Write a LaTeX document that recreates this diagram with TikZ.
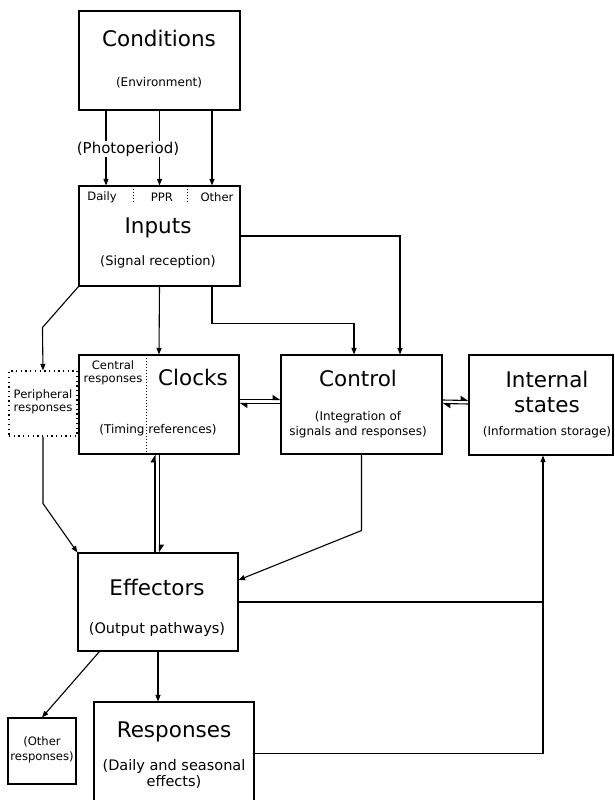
\documentclass[tikz,border=0pt]{standalone}
\usepackage{fontspec}
\setmainfont{DejaVu Sans}
\usetikzlibrary{arrows.meta}

\begin{document}
\begin{tikzpicture}[x=1pt,y=-1pt,line width=1.1pt,
  >={Triangle[length=6.5pt,width=5pt]},
  pair/.style={-{Triangle[harpoon,length=7pt,width=9pt]}},
  box/.style 2 args={draw,minimum width=#1,minimum height=#2,inner sep=0pt},
  dots/.style={line width=0.9pt,dash pattern=on 0.9pt off 2.1pt},
  titletxt/.style={inner sep=0pt,font=\fontsize{21.5}{24}\selectfont},
  midtxt/.style={inner sep=0pt,font=\fontsize{14.5}{17}\selectfont},
  subtxt/.style={inner sep=0pt,font=\fontsize{12}{14}\selectfont},
  notetxt/.style={inner sep=0pt,font=\fontsize{11.6}{13}\selectfont}]
\useasboundingbox (0,0) rectangle (614,800);
\clip (0,0) rectangle (614,800);
\fill[white] (0,0) rectangle (614,800);

\node[box={161}{99}] (cond) at (159.5,60.5) {};
\node[box={161}{100}] (inp) at (159.5,236) {};
\node[box={160}{99}] (clk) at (159,404.5) {};
\node[box={161}{99}] (ctl) at (361.5,404.5) {};
\node[box={144}{100}] (ist) at (541,405) {};
\node[box={68}{65},dash pattern=on 1.3pt off 3.4pt] (per) at (43,403.5) {};
\node[box={160}{98}] (eff) at (158,602) {};
\node[box={68}{66}] (oth) at (42,751) {};
\node[box={160}{103}] (rsp) at (174,753.5) {};
\coordinate (up) at ([xshift=2pt]ist.south);

\draw[->] ([xshift=-53.5pt]cond.south) -- ([xshift=-53.5pt]inp.north);
\draw[->] (cond.south) -- (inp.north);
\draw[->] ([xshift=52.5pt]cond.south) -- ([xshift=52.5pt]inp.north);
\draw[->] (inp.east) -| ([xshift=38.5pt]ctl.north);
\draw[->] (inp.south) -- (clk.north);
\draw[->] ([xshift=52.5pt]inp.south) -- ++(0,37) -| ([xshift=-7.5pt]ctl.north);
\draw[->] (inp.south west) -- ++(-36,41) -- (per.north);
\draw[->] (per.south) -- ++(0,67) -- (eff.north west);
\draw[pair] ([yshift=5pt]clk.east) -- ([yshift=5pt]ctl.west);
\draw[pair] ([yshift=1pt]ctl.west) -- ([yshift=1pt]clk.east);
\draw[pair] ([yshift=4.5pt]ctl.east) -- ([yshift=4.5pt]ist.west);
\draw[pair] ([yshift=1pt]ist.west) -- ([yshift=1pt]ctl.east);
\draw[pair] ([xshift=-4pt]clk.south |- eff.north) -- ([xshift=-4pt]clk.south);
\draw[pair] ([xshift=0.5pt]clk.south) -- ([xshift=0.5pt]clk.south |- eff.north);
\draw[->] (ctl.south) -- ++(0,76) -- ([yshift=22pt]eff.east);
\draw (eff.east) -- (eff.east -| up);
\draw[->] (rsp.east) -| (up);
\draw[->] (eff.south) -- (eff.south |- rsp.north);
\draw[->] ([xshift=22pt]eff.south west) -- (oth.north);

\draw[dots] (133,189) -- (133,203);
\draw[dots] (187,189) -- (187,203);
\draw[dots] (146,355) -- (146,454);

\node[titletxt] (cond-t) at (159,38) {Conditions};
\node[subtxt] (cond-s) at (159,83) {(Environment)};
\node[midtxt,fill=white,inner sep=1pt,font=\fontsize{15}{17}\selectfont] (photo) at (128,149) {(Photoperiod)};
\node[notetxt] (daily) at (102,197) {Daily};
\node[notetxt] (ppr) at (162,197) {PPR};
\node[notetxt] (other) at (217,197) {Other};
\node[titletxt] (inp-t) at (158,228) {Inputs};
\node[subtxt,font=\fontsize{13}{15}\selectfont] (inp-s) at (158,262) {(Signal reception)};
\node[notetxt] (per-a) at (43,395) {Peripheral};
\node[notetxt] (per-b) at (43,409) {responses};
\node[notetxt] (cen-a) at (113,365) {Central};
\node[notetxt] (cen-b) at (113,380) {responses};
\node[titletxt] (clk-t) at (193,377) {Clocks};
\node[subtxt] (clk-s) at (158,430) {(Timing references)};
\node[titletxt] (ctl-t) at (358,378) {Control};
\node[subtxt] (ctl-a) at (358,417) {(Integration of};
\node[subtxt] (ctl-b) at (358,432) {signals and responses)};
\node[titletxt] (ist-a) at (547,379) {Internal};
\node[titletxt] (ist-b) at (547,405) {states};
\node[subtxt] (ist-s) at (547,432) {(Information storage)};
\node[titletxt] (eff-t) at (157,587) {Effectors};
\node[midtxt] (eff-s) at (157,629) {(Output pathways)};
\node[notetxt] (oth-a) at (42,742) {(Other};
\node[notetxt] (oth-b) at (42,757) {responses)};
\node[titletxt] (rsp-t) at (174,732) {Responses};
\node[midtxt] (rsp-a) at (174,766) {(Daily and seasonal};
\node[midtxt] (rsp-b) at (174,782) {effects)};

\end{tikzpicture}
\end{document}
